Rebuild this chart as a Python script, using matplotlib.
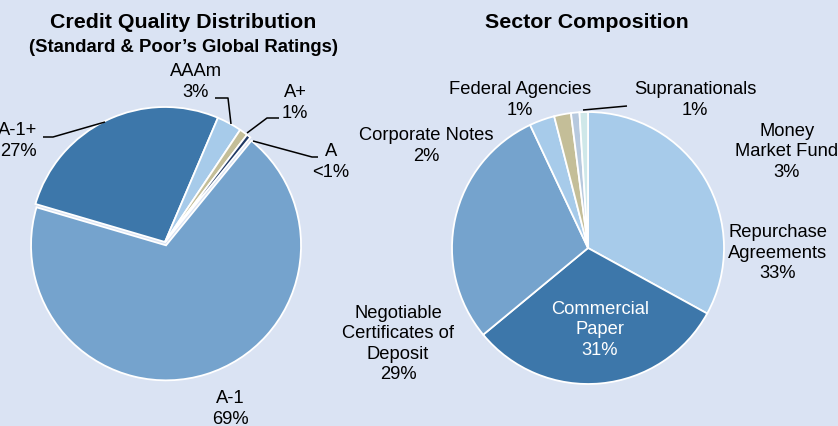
import matplotlib
matplotlib.use('Agg')
import matplotlib.pyplot as plt

# figure is laid out in pixel units, y measured from the top
W, H = 838, 426
BG = '#DAE3F3'

def Y(y):
    return H - y

# credit quality (S&P ratings)
credit_labels = ['A-1', 'A-1+', 'AAAm', 'A+', 'A']
credit_pct = [69, 27, 3, 1, 0.5]
credit_text = ['69%', '27%', '3%', '1%', '<1%']
credit_colors = ['#75A3CD', '#3D77AA', '#A7CBEA', '#C4BE98', '#1F3864']

# sector composition
sector_labels = ['Repurchase\nAgreements', 'Commercial\nPaper',
                 'Negotiable\nCertificates of\nDeposit', 'Money\nMarket Fund',
                 'Corporate Notes', 'Federal Agencies', 'Supranationals']
sector_pct = [33, 31, 29, 3, 2, 1, 1]
sector_colors = ['#A7CBEA', '#3D77AA', '#75A3CD', '#A7CBEA', '#C4BE98',
                 '#B7C9DE', '#CFE8E9']

plt.rcParams['font.family'] = ['Liberation Sans', 'DejaVu Sans']

fig = plt.figure(figsize=(W / 100, H / 100), dpi=100, facecolor=BG)
ax = fig.add_axes([0, 0, 1, 1])
ax.set_facecolor(BG)

wedge = dict(edgecolor='white', linewidth=1.3)

ax.pie(credit_pct, colors=credit_colors, startangle=50.8, counterclock=False,
       center=(165, Y(242)), radius=135, explode=[3.5, 0, 0, 0, 0],
       wedgeprops=wedge)
ax.pie(sector_pct, colors=sector_colors, startangle=90, counterclock=False,
       center=(588, Y(248)), radius=136, wedgeprops=wedge)

ax.set_xlim(0, W)
ax.set_ylim(0, H)
ax.set_aspect('equal')
ax.axis('off')

fs = 13.2
ls = 1.25

# titles
ax.text(183, Y(23), 'Credit Quality Distribution', ha='center', va='center',
        fontsize=15.4, fontweight='bold')
ax.text(183, Y(47), '(Standard & Poor\u2019s Global Ratings)', ha='center',
        va='center', fontsize=13.3, fontweight='bold')
ax.text(587, Y(23), 'Sector Composition', ha='center', va='center',
        fontsize=15.4, fontweight='bold')

# credit labels
credit_pos = [(230, 409), (18, 141), (196, 82), (295, 103), (331, 162)]
for name, txt, (x, y) in zip(credit_labels, credit_text, credit_pos):
    ax.text(x, Y(y), name + '\n' + txt, ha='center', va='center',
            fontsize=fs, linespacing=ls)

leaders = [
    [(43, 137), (53, 137), (105, 122)],
    [(215, 98), (228, 98), (231, 124)],
    [(279, 118), (267, 118), (247, 133)],
    [(253, 141), (312, 157), (318, 157)],
    [(583, 110), (627, 106)],
]
for pts in leaders:
    ax.plot([p[0] for p in pts], [Y(p[1]) for p in pts], color='black',
            lw=1.1, solid_capstyle='butt')

# sector labels
sector_pos = [(778, 253), (600, 330), (398, 344), (787, 152), (426, 146),
              (520, 100), (695, 100)]
for name, pct, (x, y) in zip(sector_labels, sector_pct, sector_pos):
    col = 'white' if name.startswith('Commercial') else 'black'
    ax.text(x, Y(y), name + '\n' + f'{pct}%', ha='center', va='center',
            fontsize=fs, linespacing=ls, color=col)

fig.savefig('out.png', dpi=100, facecolor=BG)
